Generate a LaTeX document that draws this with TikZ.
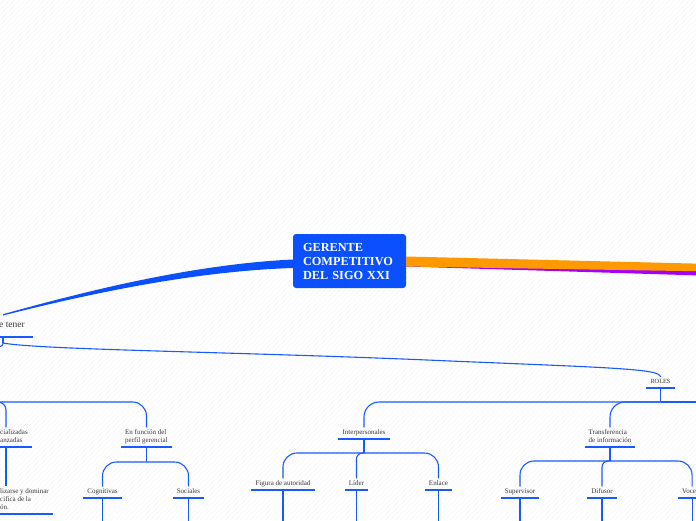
\documentclass[tikz,border=0pt]{standalone}
\usepackage{fontspec}
\setmainfont{Liberation Serif}
\usetikzlibrary{calc}
\definecolor{mapblue}{RGB}{10,80,255}
\definecolor{linkblue}{RGB}{25,90,255}
\definecolor{maporange}{RGB}{255,153,0}
\definecolor{mappurple}{RGB}{165,0,250}
\definecolor{textgray}{RGB}{55,55,55}

\begin{document}
\begin{tikzpicture}[
    x=1pt, y=-1pt,
    central/.style={
        rectangle, fill=mapblue, rounded corners=3pt,
        minimum width=113pt, minimum height=54pt,
        text width=93pt, align=left, inner sep=0pt,
        font=\fontsize{12.3}{14}\selectfont\bfseries, text=white
    },
    topic/.style={
        inner xsep=4pt, inner ysep=2.5pt, align=left,
        font=\fontsize{7}{8}\selectfont, text=textgray
    },
    leaf/.style={topic, text depth=1.4pt},
    link/.style={draw=linkblue, line width=1.1pt},
    uline/.style={draw=linkblue, line width=1.4pt},
    stripe/.style={draw=black!4, line width=0.5pt}
]
\useasboundingbox (0,0) rectangle (696,520);
\clip (0,0) rectangle (696,520);

%% ── Background hatching ──────────────────────────────────────────────────────
\foreach \i in {-520,-515,...,700}
    \draw[stripe] (\i,520) -- ++(520,-520);

%% ── Central topic ────────────────────────────────────────────────────────────
\node[central] (gerente) at (349.5,261) {GERENTE\\COMPETITIVO\\DEL SIGO XXI};

%% ── Topics ───────────────────────────────────────────────────────────────────
\node[leaf, anchor=south east, inner xsep=8pt, inner ysep=7.5pt,
      font=\fontsize{9.5}{11}\selectfont] (etener) at (33,337) {e tener};
\node[leaf, anchor=south, font=\fontsize{6.3}{8}\selectfont] (roles) at (660.5,388) {ROLES};

\node[leaf, anchor=south east] (cializ)  at (32,447)    {cializadas\\anzadas};
\node[leaf, anchor=south]      (enfunc)  at (146.5,447) {En función del\\perfil gerencial};
\node[leaf, anchor=south]      (inter)   at (364,439)   {Interpersonales};
\node[leaf, anchor=south]      (transf)  at (610,447)   {Transferencia\\de información};

\node[leaf, anchor=south east] (lizarse) at (53,514)    {lizarse y dominar\\cifica de la\\ón.};
\node[leaf, anchor=south]      (cogn)    at (102.5,498) {Cognitivas};
\node[leaf, anchor=south]      (social)  at (188.5,498) {Sociales};
\node[leaf, anchor=south]      (figura)  at (283,490)   {Figura de autoridad};
\node[leaf, anchor=south]      (lider)   at (356.5,490) {Líder};
\node[leaf, anchor=south]      (enlace)  at (438.5,490) {Enlace};
\node[leaf, anchor=south]      (superv)  at (520,498)   {Supervisor};
\node[leaf, anchor=south]      (difusor) at (602,498)   {Difusor};
\node[leaf, anchor=south west] (vocero)  at (678,498)   {Vocero};

%% ── Free ends ────────────────────────────────────────────────────────────────
\coordinate (orangeend) at (700,267.5);
\coordinate (purpleend) at (700,272);
\coordinate (ettip)     at ($(etener.north west)+(12,0)$);
\coordinate (etj)       at (3,343);
\coordinate (offet)     at (-4,347);
\coordinate (offL)      at (-30,402);
\coordinate (offR)      at (710,402);
\coordinate (cx)        at (6,0);
\coordinate (bottom)    at (0,530);

%% ── Main branches ────────────────────────────────────────────────────────────
\fill[mappurple] (gerente.east) -- ($(purpleend)+(0,-3.5)$)
    -- ($(purpleend)+(0,3.5)$) -- ($(gerente.east)+(0,5.5)$) -- cycle;
\fill[maporange] ($(gerente.east)+(0,-4.5)$) -- ($(orangeend)+(0,-3.8)$)
    -- ($(orangeend)+(0,3.8)$) -- ($(gerente.east)+(0,5.5)$) -- cycle;
\fill[mapblue] ($(gerente.west)+(0,-1.5)$) .. controls (200,264) and (100,287) .. ($(ettip)+(0,-0.6)$)
    -- ($(ettip)+(0,0.6)$) .. controls (100,291) and (200,271) .. ($(gerente.west)+(0,7)$) -- cycle;

%% ── Connectors ───────────────────────────────────────────────────────────────
\draw[link] (etener.south -| etj) -- (etj);
\draw[link] (etj) .. controls (3,346) .. (offet);
\draw[link] (etj) .. controls (40,350) and (250,352) .. (450,361)
    .. controls (620,368) and (660,369) .. (roles.north);

\draw[link, rounded corners=14pt] (offL) -| (enfunc.north);
\draw[link, rounded corners=8pt]  (offL) -| (cializ.north -| cx);
\draw[link] (cializ.south -| cx) -- (lizarse.north -| cx);

\draw[link] (enfunc.south) -- ++(0,15) coordinate (efj);
\draw[link, rounded corners=14pt] (efj) -| (cogn.north);
\draw[link, rounded corners=14pt] (efj) -| (social.north);

\draw[link] (roles.south) -- ++(0,14) coordinate (rj);
\draw[link, rounded corners=15pt] (rj) -| (inter.north);
\draw[link, rounded corners=15pt] (rj) -| (transf.north);
\draw[link] (rj) -- (offR);

\draw[link] (inter.south) -- ++(0,14) coordinate (ij);
\foreach \c/\r in {figura/14, lider/6, enlace/14}
    \draw[link, rounded corners=\r pt] (ij) -| (\c.north);

\draw[link] (transf.south) -- ++(0,14) coordinate (tj);
\foreach \c/\r in {superv/14, difusor/6, vocero/14}
    \draw[link, rounded corners=\r pt] (tj) -| (\c.north);

\foreach \c in {cogn,social,figura,lider,enlace,superv,difusor,vocero}
    \draw[link] (\c.south) -- (\c.south |- bottom);

%% ── Underlines ───────────────────────────────────────────────────────────────
\foreach \n in {etener,roles,cializ,enfunc,inter,transf,lizarse,cogn,social,
                figura,lider,enlace,superv,difusor,vocero}
    \draw[uline] (\n.south west) -- (\n.south east);

\end{tikzpicture}
\end{document}
